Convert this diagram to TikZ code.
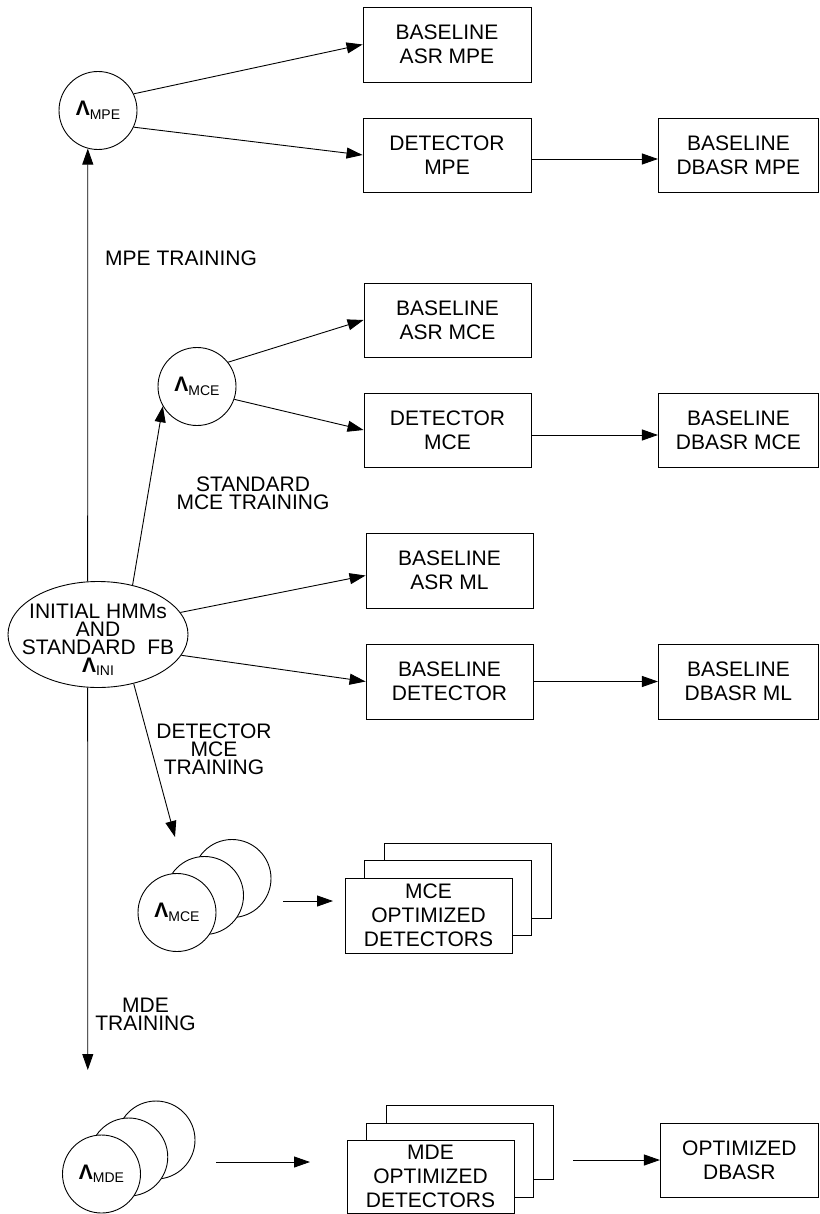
\documentclass[tikz,border=0pt]{standalone}
\usepackage{fontspec}
\setmainfont{Liberation Sans}
\usetikzlibrary{arrows.meta,shapes.geometric,calc}
\newcommand{\Lsub}[1]{{\fontsize{21}{21}\selectfont\bfseries Λ}\raisebox{-3.5pt}{\fontsize{14}{14}\selectfont #1}}
\begin{document}
\begin{tikzpicture}[x=1pt,y=-1pt,
  every node/.style={inner sep=0pt},
  box/.style={draw, line width=0.9pt, fill=white, minimum width=168pt, minimum height=75pt, align=center, font=\fontsize{21}{24}\selectfont},
  rbox/.style={box, minimum width=160pt},
  circ/.style={draw, circle, line width=0.9pt, fill=white, minimum size=78pt},
  lbl/.style={align=center, font=\fontsize{21}{18}\selectfont},
  arr/.style={line width=0.9pt, -{Triangle[length=16pt,width=11pt]}}]
\useasboundingbox (0,0) rectangle (819,1214);

% MPE group
\node[box] (asrmpe) at (447,44.5) {BASELINE\\ASR MPE};
\node[box, minimum height=74pt] (detmpe) at (447,155) {DETECTOR\\MPE};
\node[rbox, minimum height=74pt] (dbmpe) at (738.4,155) {BASELINE\\DBASR MPE};
\node[circ] (lmpe) at (98,110.5) {\Lsub{MPE}};
\node[lbl, anchor=west] (mpetr) at (105,258.5) {MPE TRAINING};

% MCE group
\node[box, minimum width=167pt, minimum height=74pt] (asrmce) at (447.5,320) {BASELINE\\ASR MCE};
\node[box, minimum width=167pt, minimum height=74pt] (detmce) at (447.5,430) {DETECTOR\\MCE};
\node[rbox, minimum height=74pt] (dbmce) at (738.4,430) {BASELINE\\DBASR MCE};
\node[circ] (lmce) at (197,386.5) {\Lsub{MCE}};
\node[lbl] (stdtr) at (253,493.5) {STANDARD\\MCE TRAINING};

% ML group
\node[box, minimum width=167pt] (asrml) at (449.5,570.5) {BASELINE\\ASR ML};
\node[box, minimum width=167pt] (detml) at (449.5,681.5) {BASELINE\\DETECTOR};
\node[rbox] (dbml) at (738.4,681.5) {BASELINE\\DBASR ML};
\node[draw, ellipse, line width=0.9pt, minimum width=180pt, minimum height=106pt] (ini) at (98,634.5) {};
\node[lbl] (initxt) at (98,640) {INITIAL HMMs\\AND\\STANDARD\ \ FB\\\Lsub{INI}};

% detector MCE training
\node[lbl] (dettr) at (214,749.5) {DETECTOR\\MCE\\TRAINING};
\node[circ] (mc3) at (232,878.5) {};
\node[circ] (mc2) at (204.5,895.5) {};
\node[circ] (mc1) at (177,912.5) {\Lsub{MCE}};
\node[box, minimum width=167pt] (mb3) at (467.5,880.5) {};
\node[box, minimum width=167pt] (mb2) at (448,898) {};
\node[box, minimum width=167pt] (mb1) at (428.5,915.5) {MCE\\OPTIMIZED\\DETECTORS};
\coordinate (mcein) at (175,837);
\coordinate (mcea) at (283,901);
\coordinate (mceb) at (333,901);

% MDE training
\node[lbl] (mdetr) at (145.5,1014.5) {MDE\\TRAINING};
\coordinate (mdetip) at (87.8,1070);
\node[circ] (dc3) at (156,1140) {};
\node[circ] (dc2) at (128.75,1157) {};
\node[circ] (dc1) at (101.5,1174) {\Lsub{MDE}};
\coordinate (mdea) at (216,1162);
\coordinate (mdeb) at (310,1162);
\node[box, minimum width=167pt, minimum height=74pt] (db3) at (469.5,1142) {};
\node[box, minimum width=167pt, minimum height=74pt] (db2) at (449.5,1160) {};
\node[box, minimum width=167pt, minimum height=73.5pt] (db1) at (430.5,1176.75) {MDE\\OPTIMIZED\\DETECTORS};
\coordinate (mdeout) at (573,1160);
\node[rbox, minimum width=158pt, minimum height=74pt] (optdb) at (739.4,1160) {OPTIMIZED\\DBASR};

% connectors
\draw[arr] (lmpe.25) -- (asrmpe.west);
\draw[arr] (lmpe.-25) -- (detmpe.west);
\draw[arr] (ini.101) -- (lmpe.255);
\draw[arr] ($(detmpe.east)+(0,4)$) -- ($(dbmpe.west)+(0,4)$);
\draw[arr] (lmce.38) -- (asrmce.west);
\draw[arr] (lmce.-19) -- (detmce.west);
\draw[arr] ($(detmce.east)+(0,5)$) -- ($(dbmce.west)+(0,5)$);
\draw[arr] (ini.55) -- (lmce.210);
\draw[arr] (ini.15) -- ($(asrml.west)+(0,5)$);
\draw[arr] (ini.-14) -- (detml.west);
\draw[arr] (detml.east) -- (dbml.west);
\draw[arr] (ini.-54) -- (mcein);
\draw[arr] (mcea) -- (mceb);
\draw[arr] (ini.259) -- (mdetip);
\draw[arr] (mdea) -- (mdeb);
\draw[arr] (mdeout) -- (optdb.west);
\end{tikzpicture}
\end{document}
